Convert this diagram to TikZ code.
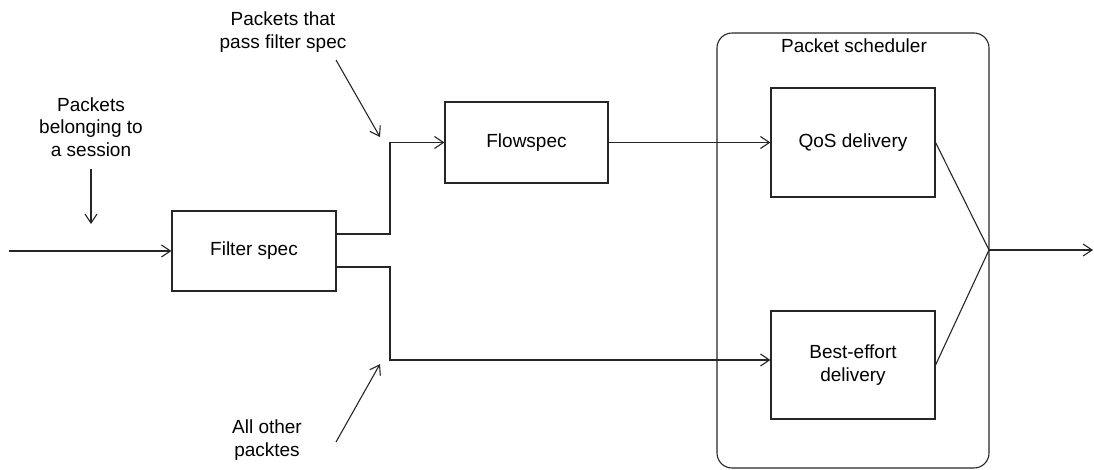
\documentclass[tikz,border=0pt]{standalone}
\usepackage{fontspec}
\setmainfont{Liberation Sans}
\usetikzlibrary{arrows.meta}
\begin{document}
\begin{tikzpicture}[x=1pt,y=-1pt,
  every node/.style={inner sep=0pt, font=\fontsize{19}{22.5}\selectfont},
  wire/.style={line width=1.1pt, draw=black!85},
  arr/.style={wire, -{Straight Barb[length=9pt,width=12pt,line width=1.1pt]}},
  blockbox/.style={draw=black!85, line width=1.1pt, rectangle, align=center},
  note/.style={align=center}]
\useasboundingbox (0,0) rectangle (1094,469);

% scheduler enclosure
\node[blockbox, rounded corners=15pt, minimum width=272pt, minimum height=435pt] (sched) at (853,250.5) {};
\node[anchor=base] (schedlbl) at (854,52) {Packet scheduler};

% processing blocks
\node[blockbox, minimum width=164pt, minimum height=80pt] (filter) at (254,251) {Filter spec};
\node[blockbox, minimum width=163pt, minimum height=81pt] (flow) at (526.5,142.5) {Flowspec};
\node[blockbox, minimum width=164pt, minimum height=109pt] (qos) at (853,142.5) {QoS delivery};
\node[blockbox, minimum width=164pt, minimum height=108pt] (best) at (853,365) {Best-effort\\delivery};

% annotations
\node[note] (sess) at (91,127) {Packets\\belonging to\\a session};
\node[note] (pass) at (283,32) {Packets that\\pass filter spec};
\node[note] (other) at (267,440) {All other\\packtes};

% free ends of the open connectors
\coordinate (in) at (9,251);
\coordinate (out) at (1093,250);
\coordinate (merge) at (989,250);
\coordinate (sessA) at (91,169);
\coordinate (sessB) at (91,224);
\coordinate (passA) at (336,60);
\coordinate (passB) at (380,137);
\coordinate (otherA) at (336,442);
\coordinate (otherB) at (380,364);

% main flow
\draw[arr] (in) -- (filter.west);
\draw[arr] ([yshift=17pt]filter.east) -- (390,234) |- (flow.west);
\draw[arr] ([yshift=-16pt]filter.east) -- (390,267) |- ([yshift=5pt]best.west);
\draw[arr] (flow.east) -- (qos.west);
\draw[wire] (qos.east) -- (merge);
\draw[wire] (best.east) -- (merge);
\draw[arr] (merge) -- (out);

% annotation pointers
\draw[arr] (sessA) -- (sessB);
\draw[arr] (passA) -- (passB);
\draw[arr] (otherA) -- (otherB);
\end{tikzpicture}
\end{document}
